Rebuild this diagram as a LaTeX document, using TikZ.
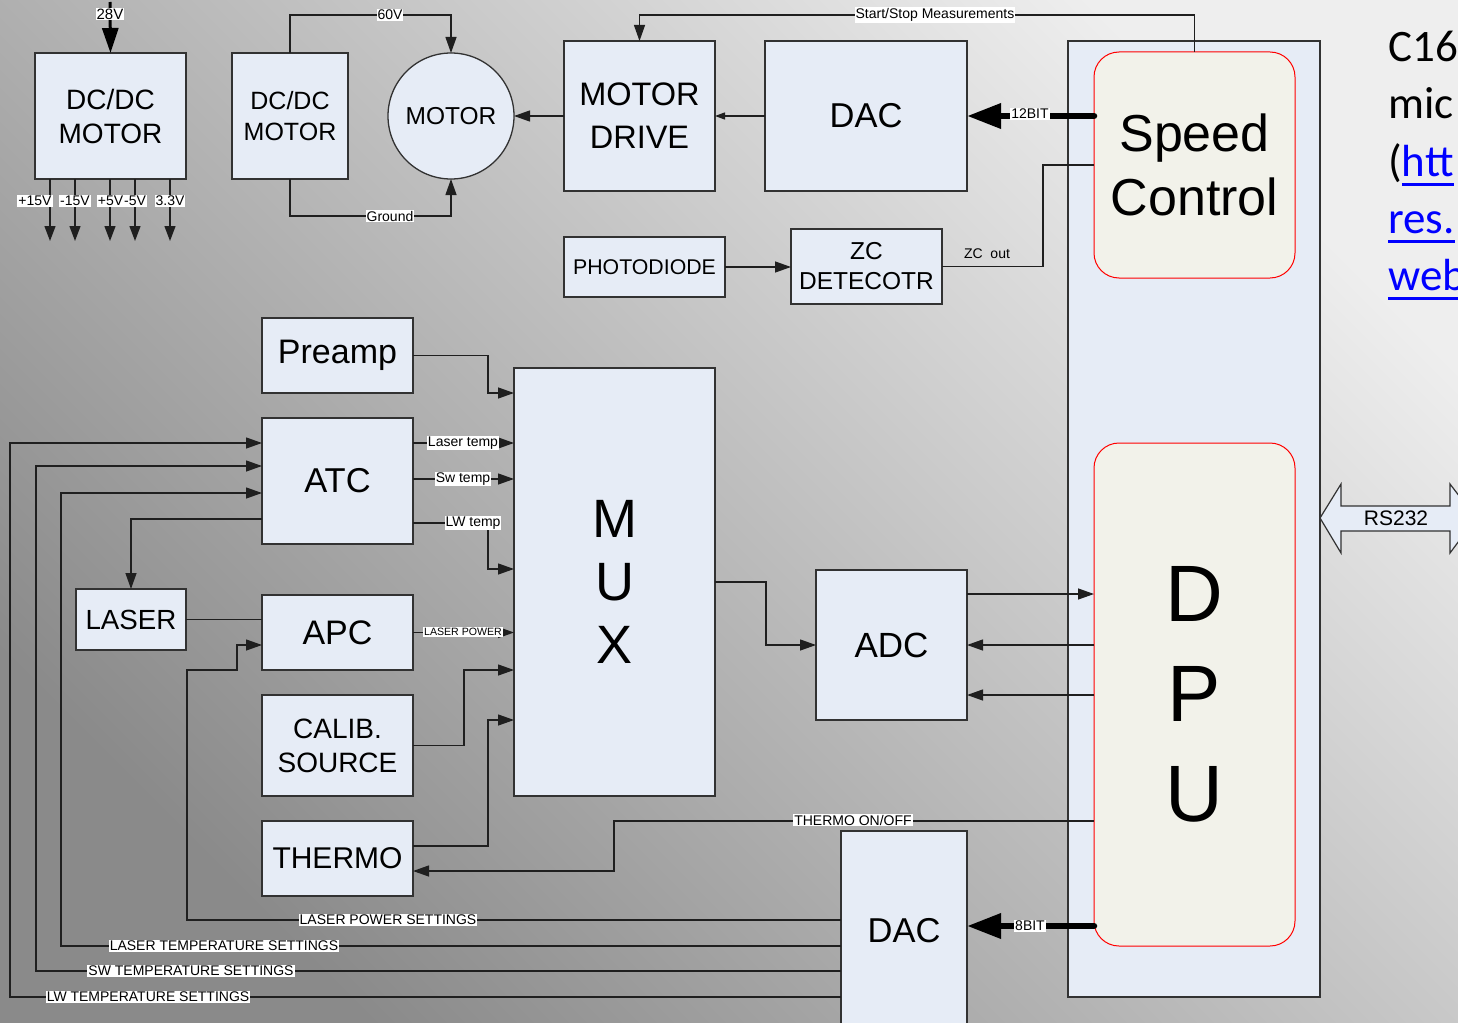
\documentclass[tikz,border=0pt]{standalone}
\usepackage{fontspec}
\setmainfont{Liberation Sans}
\newfontfamily\calfont{Carlito}
\usetikzlibrary{arrows.meta}
\definecolor{bgLL}{RGB}{138,138,138}
\definecolor{bgUR}{RGB}{238,238,238}
\definecolor{boxfill}{RGB}{230,236,246}
\definecolor{creamfill}{RGB}{242,242,234}
\definecolor{bdr}{RGB}{50,50,50}
\definecolor{linkblue}{RGB}{0,0,255}
\newcommand\fsz[2]{\fontsize{#1pt}{#2pt}\selectfont}
\newcommand\myul[1]{\leavevmode\vtop{\hbox{#1}\kern7pt\hrule height 3pt}}
\begin{document}
\begin{tikzpicture}[x=1pt,y=-1pt,
  box/.style={draw=bdr, fill=boxfill, line width=1.3pt, inner sep=0pt, outer sep=0pt, align=center},
  rbox/.style={draw=red, fill=creamfill, line width=1pt, rounded corners=25pt, inner sep=0pt, outer sep=0pt, align=center},
  wire/.style={draw=black!88, line width=1.3pt},
  conn/.style={wire, -{Triangle[length=16pt,width=11pt]}},
  smallarr/.style={wire, -{Triangle[length=10pt,width=7pt]}},
  outarr/.style={wire, -{Triangle[length=15pt,width=11pt]}},
  inarr/.style={draw=black, line width=3pt, -{Triangle[length=25pt,width=16pt]}},
  busarr/.style={draw=black, line width=6.5pt, line cap=round, -{Triangle[length=34pt,width=24pt]}},
  lbl/.style={fill=white, inner sep=1pt, font=\fsz{14}{16}},
  side/.style={anchor=base west, inner sep=0pt, font=\calfont\fsz{45}{56}},
]
\clip (0,0) rectangle (1458,1022);
\shade[top color=bgUR, bottom color=bgLL, shading angle=-45] (0,0) rectangle (1458,1022);

% level coordinates
\foreach \yy in {443,466,479,493,519,523,569,594,645,670,695,720,821,846,871,920,926,946,971,997,393}
  {\coordinate (h\yy) at (0,\yy);}

% right column
\node[box, minimum width=252pt, minimum height=956pt] (col) at (1194,519) {};
\node[rbox, minimum width=201pt, minimum height=226pt, font=\fsz{52}{64}] (speed) at (1194.5,165) {Speed\\Control};
\node[rbox, minimum width=201pt, minimum height=503pt, font=\fsz{80}{100}] (dpu) at (1194.5,694.5) {D\\P\\U};

% boxes
\node[box, minimum width=151pt, minimum height=126pt, font=\fsz{28}{34}] (dc1) at (110.5,116) {DC/DC\\MOTOR};
\node[box, minimum width=116pt, minimum height=126pt, font=\fsz{25}{31}] (dc2) at (290,116) {DC/DC\\MOTOR};
\node[box, circle, minimum size=126pt, font=\fsz{24.5}{28}] (motor) at (451,116) {MOTOR};
\node[box, minimum width=151pt, minimum height=150pt, font=\fsz{32.5}{43}] (mdrive) at (639.5,116) {MOTOR\\DRIVE};
\node[box, minimum width=202pt, minimum height=150pt, font=\fsz{34.5}{40}] (dac1) at (866,116) {DAC};
\node[box, minimum width=161pt, minimum height=60pt, font=\fsz{21.3}{25}] (photo) at (644.5,267) {PHOTODIODE};
\node[box, minimum width=151pt, minimum height=75pt, font=\fsz{24.5}{30}] (zc) at (866.5,266.5) {ZC\\DETECOTR};
\node[box, minimum width=151pt, minimum height=75pt, font=\fsz{34}{40}] (preamp) at (337.5,355.5) {Preamp};
\node[box, minimum width=201pt, minimum height=428pt, font=\fsz{54}{63}] (mux) at (614.5,582) {M\\U\\X};
\node[box, minimum width=151pt, minimum height=126pt, font=\fsz{34.5}{40}] (atc) at (337.5,481) {ATC};
\node[box, minimum width=110pt, minimum height=61pt, font=\fsz{27.7}{32}] (laser) at (131,619.5) {LASER};
\node[box, minimum width=151pt, minimum height=75pt, font=\fsz{34}{40}] (apc) at (337.5,632.5) {APC};
\node[box, minimum width=151pt, minimum height=101pt, font=\fsz{28}{34}] (calib) at (337.5,745.5) {CALIB.\\SOURCE};
\node[box, minimum width=151pt, minimum height=75pt, font=\fsz{30}{36}] (thermo) at (337.5,858.5) {THERMO};
\node[box, minimum width=151pt, minimum height=150pt, font=\fsz{35}{40}] (adc) at (891.5,645) {ADC};
\node[box, minimum width=126pt, minimum height=199pt, font=\fsz{34.5}{40}] (dac2) at (904,930.5) {DAC};

% power supply
\coordinate (in28) at (110,2);
\draw[inarr] (in28) -- (dc1.north);
\node[lbl, font=\fsz{15}{17}] (l28) at (110,14) {28V};
\foreach \xx/\nm in {50/a,75/b,110/c,135/d,170/e}{
  \coordinate (o\nm) at (\xx,241);
  \draw[outarr] (dc1.south -| o\nm) -- (o\nm);
}
\node[lbl] (v1) at (35,201) {+15V};
\node[lbl] (v2) at (75,201) {-15V};
\node[lbl] (v3) at (110.5,201) {+5V};
\node[lbl] (v4) at (135,201) {-5V};
\node[lbl] (v5) at (170,201) {3.3V};

\draw[conn] (dc2.north) -- (290,15) -- (451,15) -- (motor.north);
\node[lbl] (l60) at (390,15) {60V};
\draw[conn] (dc2.south) -- (290,216) -- (451,216) -- (motor.south);
\node[lbl] (lgnd) at (390,216) {Ground};

\draw[conn] (mdrive.west) -- (motor.east);
\draw[smallarr] (dac1.west) -- (mdrive.east);
\draw[conn] (speed.north) -- (1194.5,15) -- (639.5,15) -- (mdrive.north);
\node[lbl] (lss) at (935,15) {Start/Stop Measurements};
\draw[busarr] (speed.west |- dac1.east) -- (dac1.east);
\node[lbl] (l12) at (1030,114) {12BIT};

\draw[conn] (photo.east) -- (zc.west |- photo.east);
\draw[wire] (zc.east) -- (1043,266.5) -- (1043,165) -- (speed.west);
\node[font=\fsz{14}{16}] (lzc) at (987,254) {ZC~~out};

% MUX inputs
\draw[conn] (preamp.east) -- (488,355.5) -- (488,393) -- (mux.west |- h393);
\draw[conn] (atc.east |- h443) -- (mux.west |- h443);
\node[lbl] (llt) at (463,443) {Laser temp};
\draw[conn] (atc.east |- h479) -- (mux.west |- h479);
\node[lbl] (lsw) at (463,479) {Sw temp};
\draw[conn] (atc.east |- h523) -- (488,523) -- (488,569) -- (mux.west |- h569);
\node[lbl] (llw) at (473,523) {LW temp};
\draw[conn] (atc.west |- h519) -- (131,519) -- (laser.north);
\draw[wire] (laser.east) -- (apc.west |- laser.east);
\draw[conn] (apc.east) -- (mux.west |- apc.east);
\node[lbl, font=\fsz{10.6}{12}] (llp) at (463,632) {LASER POWER};
\draw[conn] (calib.east) -- (464,745.5) -- (464,670) -- (mux.west |- h670);
\draw[conn] (thermo.east |- h846) -- (488,846) -- (488,720) -- (mux.west |- h720);
\draw[conn] (dpu.west |- h821) -- (614,821) -- (614,871) -- (thermo.east |- h871);
\node[lbl] (lth) at (853,820) {THERMO ON/OFF};

% MUX -> ADC <-> DPU
\draw[conn] (mux.east) -- (766,582) -- (766,645) -- (adc.west);
\draw[conn] (adc.east |- h594) -- (dpu.west |- h594);
\draw[conn] (dpu.west |- h645) -- (adc.east |- h645);
\draw[conn] (dpu.west |- h695) -- (adc.east |- h695);

% DAC bottom
\draw[busarr] (dpu.west |- h926) -- (dac2.east |- h926);
\node[lbl] (l8) at (1030,926) {8BIT};
\draw[conn] (dac2.west |- h920) -- (187,920) -- (187,670) -- (237,670) -- (237,645) -- (apc.west |- h645);
\node[lbl] (llps) at (388,920) {LASER POWER SETTINGS};
\draw[conn] (dac2.west |- h946) -- (61,946) -- (61,493) -- (atc.west |- h493);
\node[lbl] (llts) at (224,946) {LASER TEMPERATURE SETTINGS};
\draw[conn] (dac2.west |- h971) -- (36,971) -- (36,466) -- (atc.west |- h466);
\node[lbl] (lsts) at (191,971) {SW TEMPERATURE SETTINGS};
\draw[conn] (dac2.west |- h997) -- (10,997) -- (10,443) -- (atc.west |- h443);
\node[lbl] (llwts) at (148,997) {LW TEMPERATURE SETTINGS};

% RS232
\draw[draw=bdr, fill=boxfill, line width=1.2pt, line join=miter]
  (1320,518) -- (1341,484) -- (1341,506) -- (1450,506) -- (1450,484) -- (1476,518)
  -- (1450,553) -- (1450,531) -- (1341,531) -- (1341,553) -- cycle;
\node[font=\fsz{21}{24}] (rs) at (1396,518) {RS232};

% side text (cut off at the picture's edge, as in the reference)
\node[side] (t1) at (1388,62) {C16};
\node[side] (t2) at (1388,119) {mic};
\node[side] (t3) at (1388,176) {(\textcolor{linkblue}{\myul{htt}}};
\node[side] (t4) at (1388,233) {\textcolor{linkblue}{\myul{res.}}};
\node[side] (t5) at (1388,290) {\textcolor{linkblue}{\myul{web}}};
\end{tikzpicture}
\end{document}
